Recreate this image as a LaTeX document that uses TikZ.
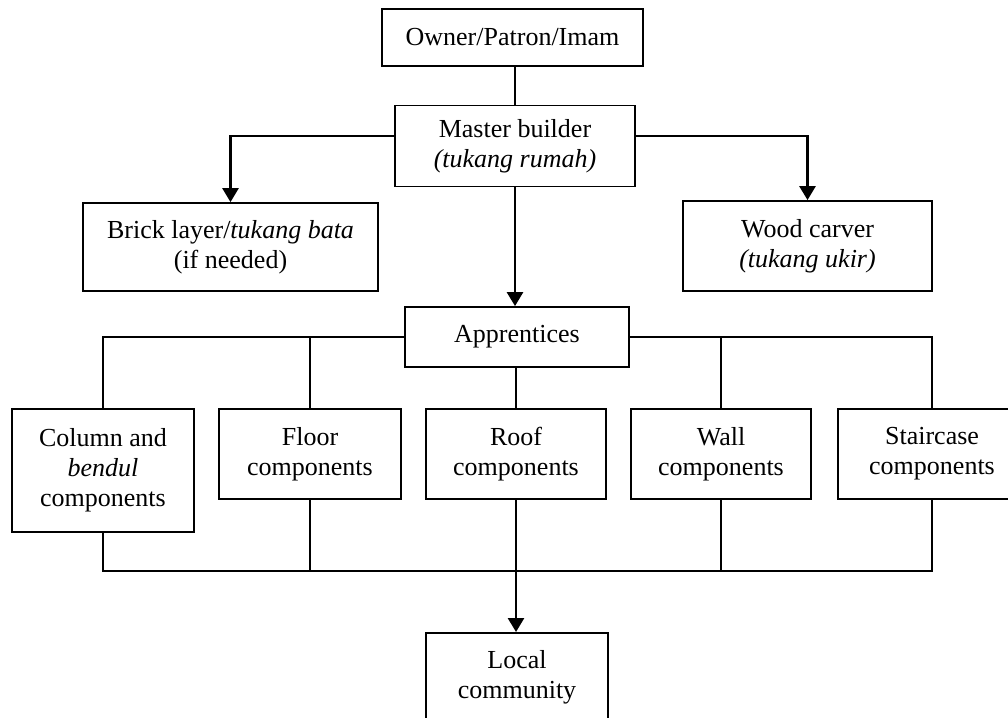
\documentclass[tikz,border=0pt]{standalone}
\usepackage{fontspec}
\setmainfont{Liberation Serif}
\usetikzlibrary{arrows.meta,calc}

\begin{document}
\begin{tikzpicture}[x=1pt,y=-1pt,
    box/.style={draw, line width=1.8pt, align=center, inner sep=0pt, font=\fontsize{26}{30}\selectfont},
    link/.style={line width=1.9pt},
    feed/.style={line width=2.6pt, -{Triangle[length=14pt,width=16pt]}}]
		%%%%% START %%%%%
		\useasboundingbox (0,0) rectangle (1008,717);
		
		\node[box, minimum width=261, minimum height=57] (owner) at (512.5,37.5) {Owner/Patron/Imam};
		\node[box, minimum width=240, minimum height=81] (master) at (515,146) {Master builder\\\textit{(tukang rumah)}};
		\node[box, minimum width=295, minimum height=88] (brick) at (230.5,247) {Brick layer/\textit{tukang bata}\\(if needed)};
		\node[box, minimum width=249, minimum height=90] (wood) at (807.5,246) {Wood carver\\\textit{(tukang ukir)}};
		\node[box, minimum width=224, minimum height=60] (appr) at (517,337) {Apprentices};
		
		\node[box, minimum width=182, minimum height=123] (column) at (103,470.5) {Column and\\\textit{bendul}\\components};
		\node[box, minimum width=182, minimum height=90] (floor) at (310,454) {Floor\\components};
		\node[box, minimum width=180, minimum height=90] (roof) at (516,454) {Roof\\components};
		\node[box, minimum width=180, minimum height=90] (wall) at (721,454) {Wall\\components};
		\node[box, minimum width=188, minimum height=90] (stair) at (932,454) {Staircase\\components};
		
		\node[box, minimum width=182, anchor=north, text height=66pt, text depth=60pt] (local) at (517,632) {Local\\community};
		
		\draw[link] (master.north) -- (master.north |- owner.south);
		\draw[feed] ([yshift=10pt]master.west) -| (brick.north);
		\draw[feed] ([yshift=10pt]master.east) -| (wood.north);
		\draw[feed] (master.south) -- (master.south |- appr.north);
		
		\draw[link] (appr.west) -| (column.north);
		\draw[link] (floor.north) |- (appr.west);
		\draw[link] (appr.east) -| (stair.north);
		\draw[link] (wall.north) |- (appr.east);
		\draw[link] (roof.north) -- (roof.north |- appr.south);
		
		\coordinate (hub) at (516,571);
		\draw[link] (column.south) |- (hub) -| (stair.south);
		\draw[link] (floor.south) -- (floor.south |- hub);
		\draw[link] (wall.south) -- (wall.south |- hub);
		\draw[feed] (roof.south) -- (roof.south |- local.north);
		%%%%% END %%%%%
\end{tikzpicture}
\end{document}
